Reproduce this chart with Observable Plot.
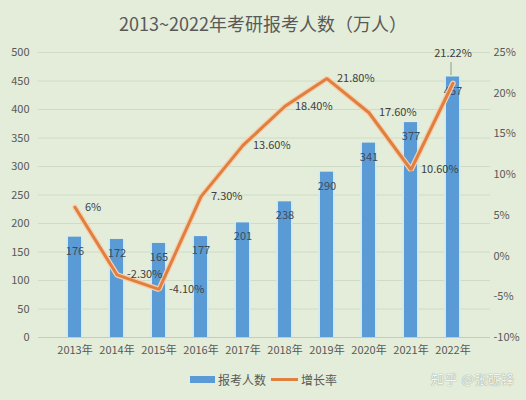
<!DOCTYPE html>
<html>
<head>
<meta charset="utf-8">
<script src="https://cdn.jsdelivr.net/npm/d3@7"></script>
<script src="https://cdn.jsdelivr.net/npm/@observablehq/plot@0.6"></script>
<style>
  html, body { margin: 0; padding: 0; }
  body { width: 526px; height: 400px; background: #e3edda; font-family: "Noto Sans CJK SC", "Noto Sans", sans-serif; position: relative; overflow: hidden; }
  #title { height: 40px; line-height: 46px; text-align: center; font-size: 18px; color: #595959; }
  #legend { position: absolute; top: 370px; left: 190px; height: 18px; display: flex; align-items: center; font-size: 12px; color: #595959; }
  #legend .sw-bar { width: 25px; height: 7px; background: #5b9bd5; margin-right: 3px; }
  #legend .sw-line { width: 27px; height: 3px; background: #e07f3e; margin: 0 3px 0 5px; }
  #wm { position: absolute; top: 369px; left: 431px; font-size: 13px; color: #f4f7f1; text-shadow: 0 0 1px #9aa596, 0 0 1px #9aa596; letter-spacing: 0.5px; }
</style>
</head>
<body>
<div id="title">2013~2022年考研报考人数（万人）</div>
<div id="chart"></div>
<div id="legend"><span class="sw-bar"></span><span>报考人数</span><span class="sw-line"></span><span>增长率</span></div>
<div id="wm">知乎 @张砺锋</div>
<script>
const years = ["2013年","2014年","2015年","2016年","2017年","2018年","2019年","2020年","2021年","2022年"];
const applicants = [176, 172, 165, 177, 201, 238, 290, 341, 377, 457];
const growth = [6, -2.3, -4.1, 7.3, 13.6, 18.4, 21.8, 17.6, 10.6, 21.22];
const growthLabels = ["6%","-2.30%","-4.10%","7.30%","13.60%","18.40%","21.80%","17.60%","10.60%","21.22%"];
const leftTicks = [0, 50, 100, 150, 200, 250, 300, 350, 400, 450, 500];
const rightTicks = [-10, -5, 0, 5, 10, 15, 20, 25];

// right (percentage) axis shares the left scale: -10% -> 0, 25% -> 500
const pMin = -10, pMax = 25, leftMax = 500;
const toLeft = p => (p - pMin) * leftMax / (pMax - pMin);

const data = years.map((y, i) => ({
  year: y, count: applicants[i], g: growth[i], gy: toLeft(growth[i]), glabel: growthLabels[i]
}));
const normal = data.filter(d => d.year !== "2022年");
const last = data.filter(d => d.year === "2022年");

const axisFont = {fontSize: 11, fill: "#595959"};

const chart = Plot.plot({
  width: 526,
  height: 322,
  marginTop: 12,
  marginBottom: 25,
  marginLeft: 38,
  marginRight: 36,
  style: {background: "transparent", fontFamily: "'Noto Sans CJK SC', sans-serif", color: "#595959"},
  x: {domain: years, padding: 0.69, label: null},
  y: {domain: [0, 500], label: null},
  marks: [
    Plot.ruleY(leftTicks.filter(t => t > 0), {stroke: "#cfdcc5", strokeWidth: 1}),
    Plot.ruleY([0], {stroke: "#c4cbbf", strokeWidth: 1}),
    Plot.axisY({ticks: leftTicks, tickSize: 0, tickPadding: 9, label: null, anchor: "left", fontSize: 11}),
    Plot.axisY({ticks: rightTicks.map(toLeft), tickSize: 0, tickPadding: 3, label: null, anchor: "right",
      tickFormat: v => Math.round(v * (pMax - pMin) / leftMax + pMin) + "%", fontSize: 11}),
    Plot.axisX({tickSize: 0, tickPadding: 9, label: null, fontSize: 11}),
    Plot.barY(data, {x: "year", y: "count", fill: "#cfe9f2", insetLeft: -1.5, insetRight: -1.5}),
    Plot.barY(data, {x: "year", y: "count", fill: "#5b9bd5"}),
    Plot.text(data, {x: "year", y: "count", text: d => String(d.count), dy: 14, fontSize: 11, fill: "#404a5a"}),
    Plot.line(data, {x: "year", y: "gy", stroke: "#f6cfae", strokeWidth: 5.5, strokeLinejoin: "miter"}),
    Plot.line(data, {x: "year", y: "gy", stroke: "#e07f3e", strokeWidth: 3, strokeLinejoin: "miter"}),
    Plot.text(normal, {x: "year", y: "gy", text: "glabel", textAnchor: "start", dx: 10, fontSize: 11, fill: "#404040"}),
    Plot.link(last, {x1: "year", x2: "year", y1: d => toLeft(d.g + 1.0), y2: d => toLeft(d.g + 2.6), dx: -2, stroke: "#8c9a8a", strokeWidth: 1}),
    Plot.text(last, {x: "year", y: "gy", text: "glabel", dy: -30, fontSize: 11, fill: "#404040"})
  ]
});
document.getElementById("chart").appendChild(chart);
</script>
</body>
</html>
